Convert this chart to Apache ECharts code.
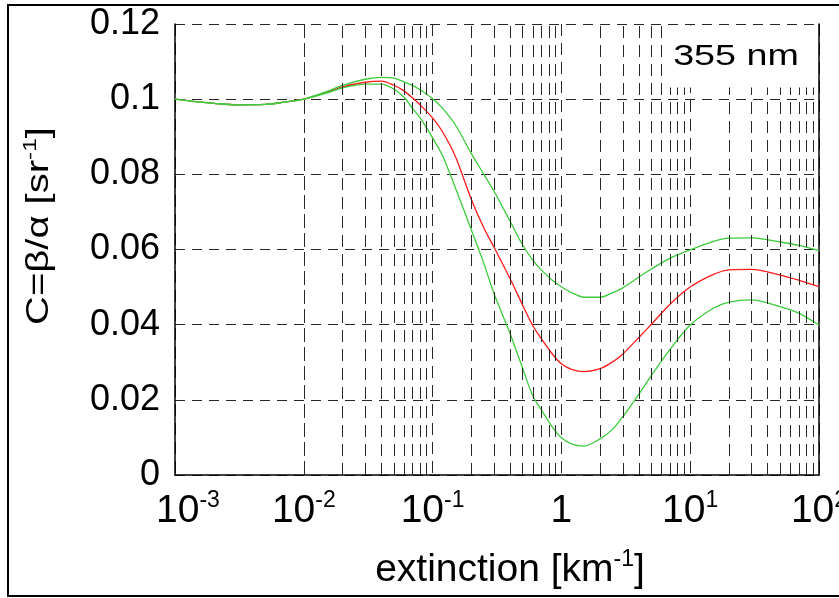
<!DOCTYPE html>
<html>
<head>
<meta charset="utf-8">
<script src="https://cdn.jsdelivr.net/npm/echarts@6/dist/echarts.min.js"></script>
<style>
html,body{margin:0;padding:0;background:#fff;}
#chart{width:839px;height:598px;}
</style>
</head>
<body>
<div id="chart"></div>
<script>
// extinction [km^-1]
var extinction = [0.001, 0.0015, 0.002, 0.003, 0.005, 0.007, 0.01, 0.015, 0.02, 0.03, 0.04, 0.05, 0.06, 0.07, 0.08, 0.1, 0.12, 0.15, 0.2, 0.25, 0.3, 0.4, 0.5, 0.6, 0.7, 0.85, 1, 1.2, 1.5, 2, 2.5, 3, 4, 5, 7, 10, 15, 20, 30, 50, 70, 100];
// C = beta/alpha [sr^-1]
var cCentral = [0.1, 0.0993, 0.0989, 0.0985, 0.0986, 0.0992, 0.1, 0.1018, 0.1033, 0.1045, 0.1048, 0.1037, 0.1022, 0.1003, 0.0985, 0.095, 0.0912, 0.0848, 0.0733, 0.0657, 0.0606, 0.0522, 0.0452, 0.0397, 0.0362, 0.0322, 0.0296, 0.0281, 0.0275, 0.0283, 0.0301, 0.0322, 0.0366, 0.0401, 0.0455, 0.05, 0.0533, 0.0546, 0.0547, 0.0532, 0.0518, 0.0501];
var cUpper   = [0.1, 0.0993, 0.0989, 0.0985, 0.0986, 0.0992, 0.1, 0.102, 0.1037, 0.1053, 0.1058, 0.1056, 0.1046, 0.1036, 0.1025, 0.1001, 0.0975, 0.0932, 0.0855, 0.08, 0.0755, 0.0675, 0.0612, 0.0572, 0.0545, 0.0518, 0.0501, 0.0485, 0.0473, 0.0473, 0.0485, 0.0498, 0.0527, 0.0548, 0.0577, 0.0599, 0.0621, 0.063, 0.0631, 0.062, 0.0611, 0.0597];
var cLower   = [0.1, 0.0993, 0.0989, 0.0985, 0.0986, 0.0992, 0.1, 0.1016, 0.103, 0.104, 0.104, 0.1027, 0.1005, 0.0975, 0.095, 0.0897, 0.0848, 0.0765, 0.0652, 0.0563, 0.0482, 0.0376, 0.0284, 0.021, 0.0173, 0.0128, 0.0099, 0.0083, 0.0077, 0.0096, 0.0122, 0.0155, 0.0215, 0.0265, 0.0335, 0.0399, 0.0443, 0.046, 0.0466, 0.0448, 0.043, 0.0399];

var xDecades = [0.001, 0.01, 0.1, 1, 10, 100];
var xTickLabels = {0.001: ['10', '-3'], 0.01: ['10', '-2'], 0.1: ['10', '-1'], 1: ['1', ''], 10: ['10', '1'], 100: ['10', '2']};
var yTickLabels = {0: '0', 0.02: '0.02', 0.04: '0.04', 0.06: '0.06', 0.08: '0.08', 0.1: '0.1', 0.12: '0.12'};
var minorMultipliers = [2, 3, 4, 5, 6, 7, 8, 9];
var legendText = '355 nm';
var xAxisTitle = '{n|extinction [km}{s|-1}{n|]}';
var yAxisTitle = '{n|C=β/α [sr}{s|-1}{n|]}';

var FONT = 'Liberation Sans, Arial, sans-serif';
var gridColor = '#2a2626';

function pairs(xs, ys) { return xs.map(function (x, i) { return [x, ys[i]]; }); }

var minorLines = [];
xDecades.slice(0, -1).forEach(function (d) {
  minorMultipliers.forEach(function (m) { minorLines.push({ xAxis: +(d * m).toPrecision(6) }); });
});

var chart = echarts.init(document.getElementById('chart'), null, { renderer: 'canvas' });
chart.setOption({
  animation: false,
  backgroundColor: '#fff',
  grid: { left: 175, top: 24, width: 644, height: 451, containLabel: false, outerBoundsMode: 'none' },
  xAxis: {
    type: 'log', logBase: 10, min: 0.001, max: 100,
    axisLine: { show: true, onZero: false, lineStyle: { color: '#000', width: 1.5 } },
    axisTick: { show: false },
    splitLine: { show: true, lineStyle: { color: gridColor, width: 1, type: [12, 7] } },
    axisLabel: {
      margin: 14,
      formatter: function (v) {
        var k = +v.toPrecision(3);
        var l = xTickLabels[k];
        if (!l) return '';
        if (!l[1]) return '{b|' + l[0] + '}';
        return '{' + (k === 0.001 ? 'f' : 'b') + '|' + l[0] + '}{s|' + l[1] + '}';
      },
      rich: {
        b: { fontFamily: FONT, fontSize: 39, color: '#000', lineHeight: 44 },
        f: { fontFamily: FONT, fontSize: 39, color: '#000', lineHeight: 44, padding: [0, 0, 0, 26] },
        s: { fontFamily: FONT, fontSize: 23, color: '#000', verticalAlign: 'top', lineHeight: 24 }
      }
    },
    name: xAxisTitle,
    nameLocation: 'middle',
    nameGap: 73,
    nameTextStyle: {
      padding: [0, 0, 0, 26],
      rich: {
        n: { fontFamily: FONT, fontSize: 39, color: '#000', lineHeight: 44 },
        s: { fontFamily: FONT, fontSize: 23, color: '#000', verticalAlign: 'top', lineHeight: 24 }
      }
    }
  },
  yAxis: [{
    type: 'value', min: 0, max: 0.12, interval: 0.02,
    axisLine: { show: true, lineStyle: { color: '#000', width: 1.5 } },
    axisTick: { show: false },
    splitLine: { show: true, lineStyle: { color: gridColor, width: 1, type: [10, 7] } },
    axisLabel: {
      margin: 15, fontFamily: FONT, fontSize: 36, color: '#000',
      formatter: function (v) { var k = +v.toFixed(2); return yTickLabels[k] !== undefined ? yTickLabels[k] : ''; }
    }
  }, {
    type: 'value', min: 0, max: 0.12, position: 'right',
    axisLine: { show: true, lineStyle: { color: '#000', width: 1.5 } },
    axisTick: { show: false }, axisLabel: { show: false }, splitLine: { show: false }
  }],
  series: [{
    type: 'line', data: [], silent: true,
    markLine: {
      silent: true, symbol: ['none', 'none'], label: { show: false },
      lineStyle: { color: gridColor, width: 1, type: [12, 7] },
      data: minorLines
    }
  }, {
    name: 'central', type: 'line', data: pairs(extinction, cCentral), showSymbol: false, smooth: 0.3,
    lineStyle: { color: '#ff1a1a', width: 1.3 }
  }, {
    name: 'upper', type: 'line', data: pairs(extinction, cUpper), showSymbol: false, smooth: 0.3,
    lineStyle: { color: '#3ccc3c', width: 1.3 }
  }, {
    name: 'lower', type: 'line', data: pairs(extinction, cLower), showSymbol: false, smooth: 0.3,
    lineStyle: { color: '#3ccc3c', width: 1.3 }
  }],
  graphic: [
    { type: 'rect', z: 100, shape: { x: 8, y: 5, width: 840, height: 591 }, style: { fill: 'none', stroke: '#000', lineWidth: 2 } },
    { type: 'rect', z: 50, shape: { x: 665, y: 25.5, width: 153, height: 62 }, style: { fill: '#fff', stroke: 'none' } },
    { type: 'text', z: 60, x: 736, y: 57, scaleX: 1.3, style: { text: legendText, font: '29px ' + FONT, fill: '#000', textAlign: 'center', textVerticalAlign: 'middle' } },
    { type: 'text', z: 60, x: 39, y: 226, rotation: Math.PI / 2, scaleX: 1.29,
      style: {
        text: yAxisTitle, align: 'center', verticalAlign: 'middle',
        rich: {
          n: { fontFamily: FONT, fontSize: 31, fill: '#000', lineHeight: 36 },
          s: { fontFamily: FONT, fontSize: 19, fill: '#000', verticalAlign: 'top', lineHeight: 19 }
        }
      }
    }
  ]
});
</script>
</body>
</html>
